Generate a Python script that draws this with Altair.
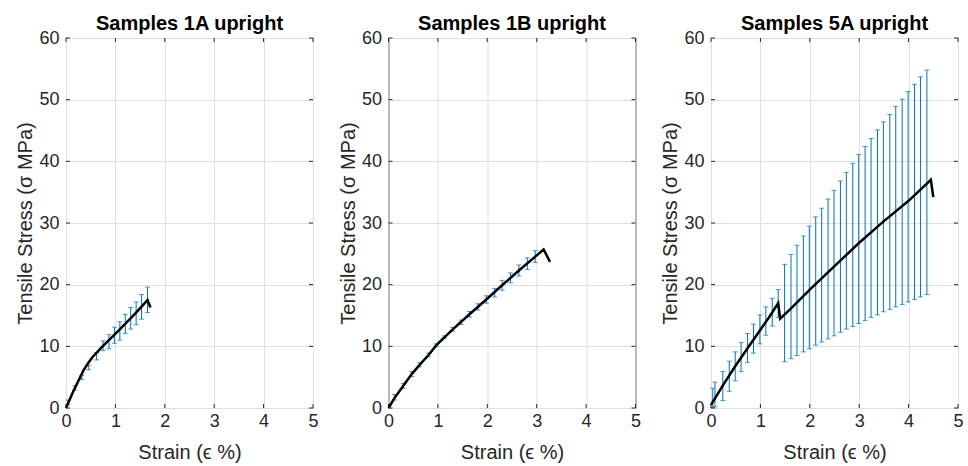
import altair as alt
import pandas as pd

titles = ["Samples 1A upright", "Samples 1B upright", "Samples 5A upright"]
x_ticks = [0, 1, 2, 3, 4, 5]
y_ticks = [0, 10, 20, 30, 40, 50, 60]

# Panel 1A error bars (strain, lower, upper) and mean curve
s1_bar_x = [0.04, 0.18, 0.32, 0.46, 0.62, 0.75, 0.87, 0.98, 1.09, 1.20, 1.31, 1.42, 1.53, 1.65]
s1_bar_lo = [0.6, 2.9, 4.6, 6.2, 7.8, 9.3, 9.6, 10.5, 11.0, 12.1, 12.8, 13.5, 14.4, 15.5]
s1_bar_hi = [1.3, 3.6, 5.3, 6.9, 9.0, 10.9, 11.9, 13.1, 14.0, 15.2, 16.3, 17.2, 18.4, 19.6]
s1_line_x = [0.0, 0.16, 0.36, 0.45, 0.53, 0.73, 1.07, 1.40, 1.65, 1.71]
s1_line_y = [0.0, 2.9, 6.2, 7.3, 8.2, 9.9, 12.6, 15.3, 17.5, 16.3]

# Panel 1B
s2_bar_x = [0.12, 0.30, 0.47, 0.63, 0.81, 0.97, 1.13, 1.30, 1.47, 1.64, 1.81, 1.98, 2.15, 2.30, 2.47, 2.64, 2.81, 2.97]
s2_bar_lo = [1.3, 3.2, 5.1, 6.7, 8.3, 10.0, 11.3, 12.45, 13.55, 14.75, 15.9, 17.0, 18.0, 19.1, 20.3, 21.4, 22.45, 23.6]
s2_bar_hi = [2.2, 4.0, 5.9, 7.35, 8.9, 10.4, 11.7, 13.05, 14.25, 15.65, 16.9, 18.2, 19.4, 20.7, 21.9, 23.2, 24.35, 25.5]
s2_line_x = [0.0, 0.12, 0.30, 0.47, 0.63, 0.81, 0.97, 1.30, 1.64, 1.98, 2.30, 2.64, 2.97, 3.14, 3.27]
s2_line_y = [0.0, 1.6, 3.6, 5.5, 7.0, 8.6, 10.2, 12.75, 15.2, 17.6, 19.9, 22.3, 24.55, 25.7, 23.7]

# Panel 5A
s3_bar_x = [0.035, 0.08, 0.24, 0.37, 0.49, 0.61, 0.74, 0.86, 0.99, 1.11, 1.24, 1.36,
            1.49, 1.62, 1.74, 1.87, 1.99, 2.12, 2.24, 2.37, 2.49, 2.62, 2.74, 2.87,
            2.99, 3.12, 3.24, 3.37, 3.49, 3.62, 3.74, 3.87, 3.99, 4.12, 4.24, 4.37]
s3_bar_lo = [0.1, 0.2, 1.2, 2.7, 4.4, 5.9, 7.4, 8.9, 10.4, 11.8, 13.3, 14.7,
             7.5, 8.0, 8.5, 9.1, 9.6, 10.2, 10.7, 11.2, 11.7, 12.3, 12.8, 13.2,
             13.7, 14.2, 14.7, 15.1, 15.6, 16.0, 16.4, 16.8, 17.2, 17.6, 18.0, 18.4]
s3_bar_hi = [3.2, 4.2, 5.9, 7.6, 9.1, 10.6, 12.1, 13.6, 15.1, 16.4, 17.8, 19.2,
             23.3, 24.9, 26.4, 27.9, 29.5, 31.0, 32.4, 33.9, 35.3, 36.8, 38.2, 39.7,
             41.1, 42.4, 43.7, 45.1, 46.4, 47.6, 48.9, 50.1, 51.3, 52.5, 53.7, 54.8]
s3_line_x = [0.0, 0.25, 0.50, 0.75, 1.00, 1.20, 1.36, 1.40, 1.60, 2.00, 2.50, 3.00, 3.50, 4.00, 4.45, 4.50]
s3_line_y = [0.5, 3.8, 6.9, 9.8, 12.7, 15.0, 17.0, 14.5, 16.0, 19.2, 23.0, 26.8, 30.3, 33.6, 37.0, 34.2]

W, H = 247, 370
BLUE = "#0072BD"
DARK = "#262626"
TL = 4  # inward tick length


def panel(title, bx, blo, bhi, lx, ly):
    bars = pd.DataFrame({"strain": bx, "lo": blo, "hi": bhi})
    line = pd.DataFrame({"strain": lx, "stress": ly, "i": list(range(len(lx)))})
    xt = pd.DataFrame({"v": x_ticks})
    yt = pd.DataFrame({"v": y_ticks})
    xs = alt.Scale(domain=[0, 5], nice=False)
    ys = alt.Scale(domain=[0, 60], nice=False)
    xax = alt.Axis(values=x_ticks, title="Strain (ϵ %)", labelPadding=4, titlePadding=12,
                   labelFlush=False)
    yax = alt.Axis(values=y_ticks, title="Tensile Stress (σ MPa)", labelPadding=7, titlePadding=3,
                   labelFlush=False)

    rules = alt.Chart(bars).mark_rule(color=BLUE, strokeWidth=1).encode(
        x=alt.X("strain:Q", scale=xs, axis=xax),
        y=alt.Y("lo:Q", scale=ys, axis=yax),
        y2="hi:Q",
    )
    cap_lo = alt.Chart(bars).mark_tick(orient="horizontal", size=5, thickness=1, color=BLUE).encode(
        x="strain:Q", y="lo:Q")
    cap_hi = alt.Chart(bars).mark_tick(orient="horizontal", size=5, thickness=1, color=BLUE).encode(
        x="strain:Q", y="hi:Q")
    ln = alt.Chart(line).mark_line(color="black", strokeWidth=2.5).encode(
        x="strain:Q", y="stress:Q", order="i:Q")

    tb = alt.Chart(xt).mark_rule(color=DARK, strokeWidth=1).encode(
        x="v:Q", y=alt.value(H), y2=alt.value(H - TL))
    tt = alt.Chart(xt).mark_rule(color=DARK, strokeWidth=1).encode(
        x="v:Q", y=alt.value(0), y2=alt.value(TL))
    tlft = alt.Chart(yt).mark_rule(color=DARK, strokeWidth=1).encode(
        y="v:Q", x=alt.value(0), x2=alt.value(TL))
    trgt = alt.Chart(yt).mark_rule(color=DARK, strokeWidth=1).encode(
        y="v:Q", x=alt.value(W), x2=alt.value(W - TL))

    return alt.layer(rules, cap_lo, cap_hi, ln, tb, tt, tlft, trgt).properties(
        width=W, height=H,
        title=alt.TitleParams(title, frame="group", fontSize=20, fontWeight="bold",
                              font="Liberation Sans", color="black", offset=-5),
    )


chart = alt.hconcat(
    panel(titles[0], s1_bar_x, s1_bar_lo, s1_bar_hi, s1_line_x, s1_line_y),
    panel(titles[1], s2_bar_x, s2_bar_lo, s2_bar_hi, s2_line_x, s2_line_y),
    panel(titles[2], s3_bar_x, s3_bar_lo, s3_bar_hi, s3_line_x, s3_line_y),
    spacing=18.5,
).properties(
    padding={"left": 15, "top": 13, "right": 4, "bottom": 5},
    background="white",
).configure_view(
    stroke=DARK, strokeWidth=1,
).configure_axis(
    labelFont="Liberation Sans", titleFont="Liberation Sans",
    labelFontSize=18, titleFontSize=20, titleFontWeight="normal",
    labelColor=DARK, titleColor=DARK,
    gridColor="#dfdfdf", grid=True, domain=False, ticks=False, tickSize=0,
)

chart.save("out.html", embed_options={"renderer": "svg", "actions": False})
